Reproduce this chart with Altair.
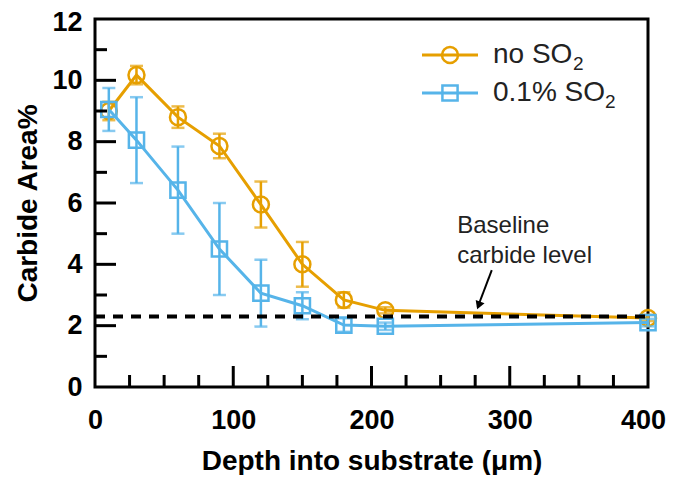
import altair as alt
import pandas as pd

# ---- data ----
depth = [10, 30, 60, 90, 120, 150, 180, 210, 400]
no_so2 = [9.0, 10.17, 8.8, 7.86, 5.95, 4.0, 2.84, 2.5, 2.25]
no_so2_err = [0.3, 0.3, 0.35, 0.4, 0.75, 0.73, 0.25, 0.1, 0.1]
so2 = [9.05, 8.05, 6.42, 4.5, 3.06, 2.65, 2.02, 1.98, 2.1]
so2_err = [0.7, 1.4, 1.42, 1.5, 1.09, 0.44, 0.22, 0.12, 0.12]
baseline_level = 2.3
x_labels = [0, 100, 200, 300, 400]
y_labels = [0, 2, 4, 6, 8, 10, 12]
x_minor = [25, 50, 75, 125, 150, 175, 225, 250, 275, 325, 350, 375]
x_major = [100, 200, 300]
y_minor = [1, 3, 5, 7, 9, 11]
y_major = [2, 4, 6, 8, 10]

ORANGE = "#E69F00"
BLUE = "#56B4E9"
FONT = "Liberation Sans"
W, H = 553, 368

df_a = pd.DataFrame({"depth": depth, "v": no_so2,
                     "lo": [v - e for v, e in zip(no_so2, no_so2_err)],
                     "hi": [v + e for v, e in zip(no_so2, no_so2_err)]})
df_b = pd.DataFrame({"depth": depth, "v": so2,
                     "lo": [v - e for v, e in zip(so2, so2_err)],
                     "hi": [v + e for v, e in zip(so2, so2_err)]})

xs = alt.Scale(domain=[0, 400], nice=False, zero=False)
ys = alt.Scale(domain=[0, 12], nice=False, zero=False)

x_axis = alt.Axis(values=x_labels, title="Depth into substrate (μm)", ticks=False, tickSize=0,
                  domain=False, grid=False, labelFlush=False, labelPadding=20,
                  labelOffset={"condition": {"test": "datum.value == 400", "value": -5}, "value": 0},
                  labelFontSize=27, labelFontWeight="bold", titleFontSize=28,
                  titleFontWeight="bold", titleY=74, titleBaseline="middle")
y_axis = alt.Axis(values=y_labels, title="Carbide Area%", ticks=False, tickSize=0,
                  domain=False, grid=False, labelFlush=False, labelPadding=13,
                  labelOffset={"condition": {"test": "datum.value == 12", "value": 3}, "value": 0},
                  labelFontSize=27, labelFontWeight="bold", titleFontSize=28,
                  titleFontWeight="bold", titleX=-67, titleY=H / 2,
                  titleBaseline="middle", titleAngle=-90)


def series(df, color, shape, size):
    base = alt.Chart(df)
    line = base.mark_line(color=color, strokeWidth=3).encode(
        x=alt.X("depth:Q", scale=xs, axis=x_axis), y=alt.Y("v:Q", scale=ys, axis=y_axis))
    bar = base.mark_rule(color=color, strokeWidth=2.5).encode(
        x="depth:Q", y="lo:Q", y2="hi:Q")
    cap_lo = base.mark_tick(color=color, orient="horizontal", size=13, thickness=2.5).encode(
        x="depth:Q", y="lo:Q")
    cap_hi = base.mark_tick(color=color, orient="horizontal", size=13, thickness=2.5).encode(
        x="depth:Q", y="hi:Q")
    pts = base.mark_point(color=color, shape=shape, size=size, filled=False,
                          strokeWidth=2.5, opacity=1).encode(x="depth:Q", y="v:Q")
    return [line, bar, cap_lo, cap_hi, pts]


layers = series(df_a, ORANGE, "circle", 256) + series(df_b, BLUE, "square", 230)

# baseline dashed line
base_df = pd.DataFrame({"x0": [0], "x1": [400], "y": [baseline_level]})
layers.append(alt.Chart(base_df).mark_rule(color="black", strokeWidth=4, strokeDash=[10, 8]).encode(
    x="x0:Q", x2="x1:Q", y="y:Q"))

# minor / major ticks drawn inward
def ticks_x(vals, length):
    return alt.Chart(pd.DataFrame({"t": vals})).mark_rule(color="black", strokeWidth=3).encode(
        x="t:Q", y=alt.value(H), y2=alt.value(H - length))

def ticks_y(vals, length):
    return alt.Chart(pd.DataFrame({"t": vals})).mark_rule(color="black", strokeWidth=3).encode(
        y="t:Q", x=alt.value(0), x2=alt.value(length))

layers += [ticks_x(x_minor, 12), ticks_x(x_major, 21), ticks_y(y_minor, 12), ticks_y(y_major, 21)]

# annotation
ann_df = pd.DataFrame({"x": [262, 262], "y": [5.25, 4.27], "t": ["Baseline", "carbide level"]})
layers.append(alt.Chart(ann_df).mark_text(align="left", baseline="middle", fontSize=24,
                                          font=FONT, color="#222222").encode(
    x="x:Q", y="y:Q", text="t:N"))
arrow_df = pd.DataFrame({"x": [287], "y": [3.81], "x2": [276.8], "y2": [2.6]})
layers.append(alt.Chart(arrow_df).mark_rule(color="black", strokeWidth=2).encode(
    x="x:Q", y="y:Q", x2="x2:Q", y2="y2:Q"))
head_df = pd.DataFrame({"x": [277.5], "y": [2.66]})
layers.append(alt.Chart(head_df).mark_point(shape="triangle-down", filled=True, size=90,
                                            angle=21, color="black", opacity=1).encode(
    x="x:Q", y="y:Q"))

# manual legend
one = pd.DataFrame({"k": [0]})
def legend_row(y, color, shape, size, label, sub_x):
    c = alt.Chart(one)
    return [
        c.mark_rule(color=color, strokeWidth=3).encode(x=alt.value(327), x2=alt.value(383), y=alt.value(y)),
        c.mark_point(color=color, shape=shape, size=size, filled=False, strokeWidth=2.5, opacity=1).encode(
            x=alt.value(355), y=alt.value(y)),
        c.mark_text(align="left", baseline="middle", fontSize=28, font=FONT, color="#222222",
                    text=label).encode(x=alt.value(398), y=alt.value(y)),
        c.mark_text(align="left", baseline="middle", fontSize=19, font=FONT, color="#222222",
                    text="2").encode(x=alt.value(sub_x), y=alt.value(y + 9)),
    ]

layers += legend_row(36, ORANGE, "circle", 256, "no SO", 478)
layers += legend_row(74, BLUE, "square", 230, "0.1% SO", 510)

chart = alt.layer(*layers).properties(
    width=W, height=H,
    autosize=alt.AutoSizeParams(type="none"),
    padding={"left": 87, "top": 11, "right": 18, "bottom": 88},
).configure_view(stroke="black", strokeWidth=3).configure_axis(
    labelFont=FONT, titleFont=FONT, labelColor="black", titleColor="black")

chart.save("out.html", embed_options={"renderer": "svg", "actions": False})
